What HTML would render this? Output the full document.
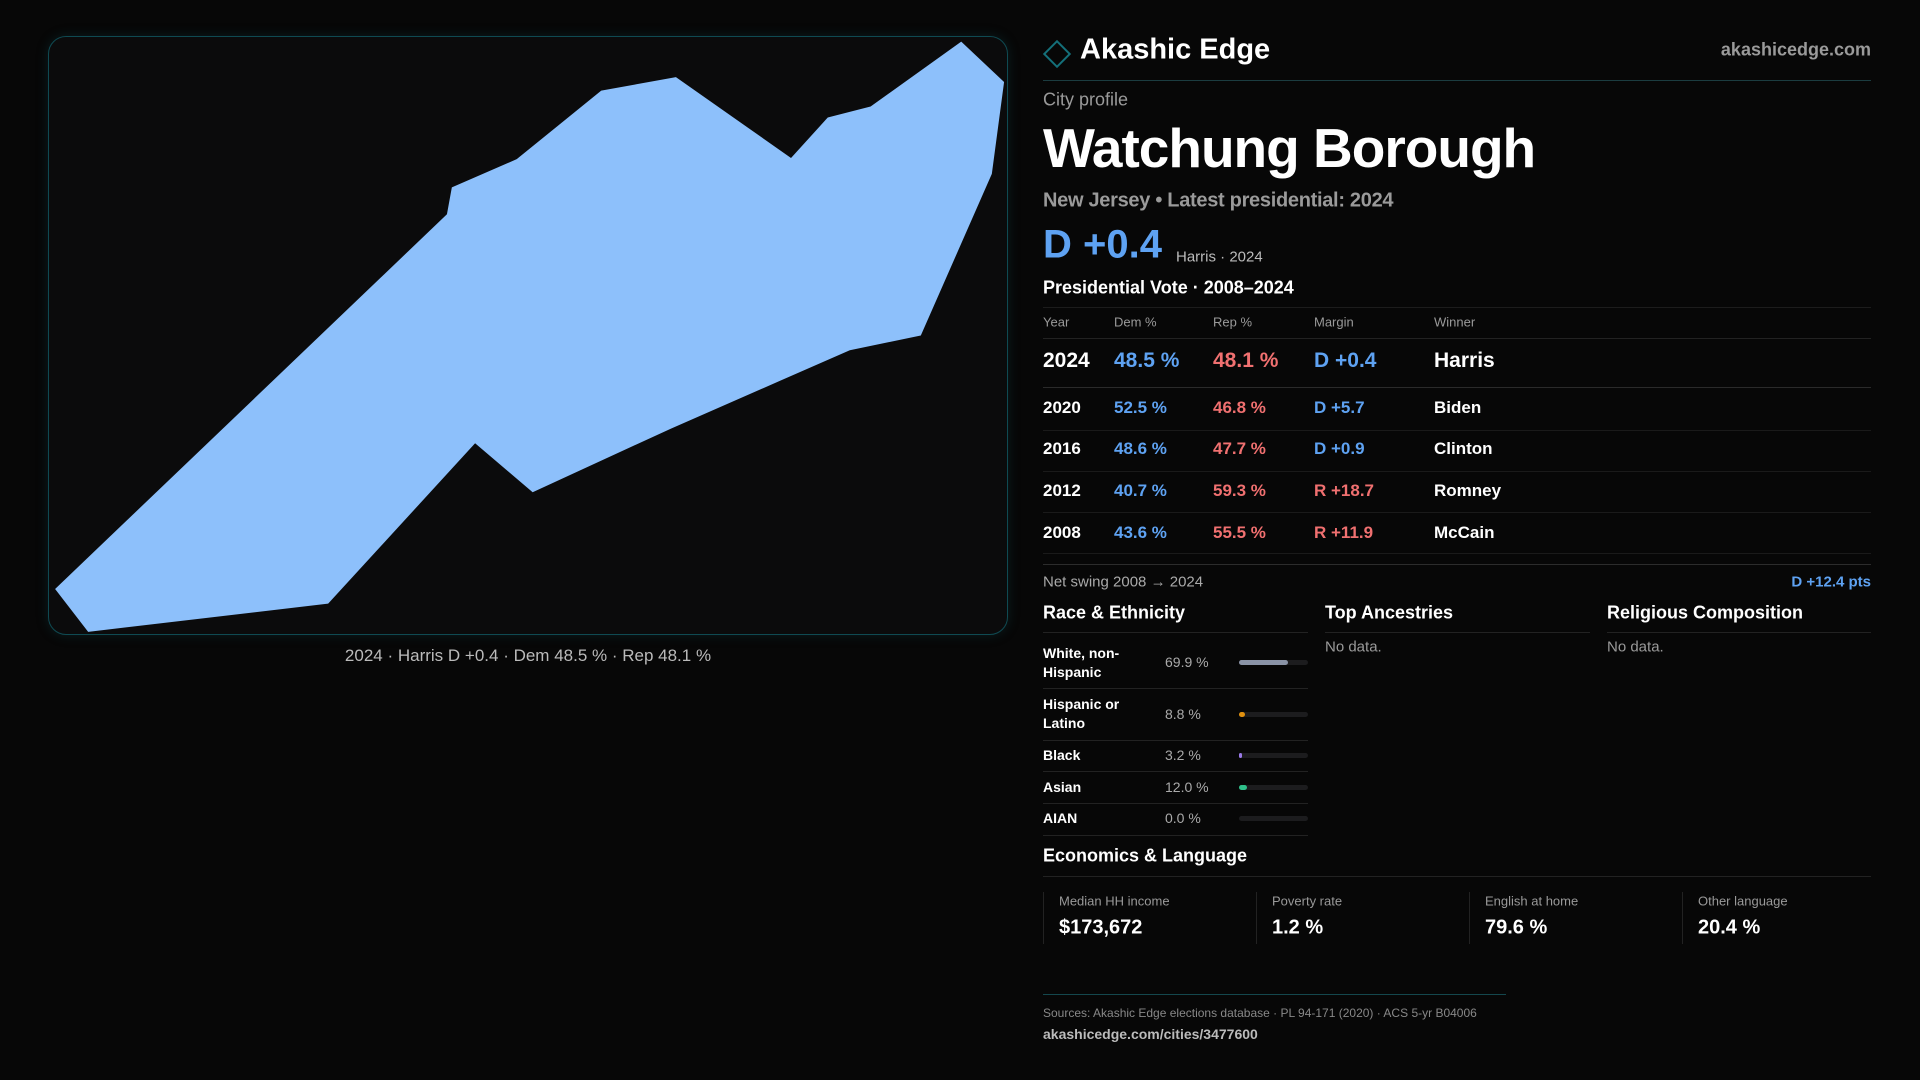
<!DOCTYPE html>
<html><head><meta charset="utf-8"><style>
*{margin:0;padding:0;box-sizing:border-box}
body{width:1920px;height:1080px;background:#070707;font-family:"Liberation Sans",sans-serif;color:#fff;position:relative;overflow:hidden}
.a{position:absolute;white-space:nowrap}
.panel{position:absolute;left:48px;top:36px;width:960px;height:599px;border:1.5px solid #0f4a52;border-radius:18px;background:#0b0b0c;box-shadow:0 0 12px rgba(20,90,100,.25)}
.hl{position:absolute;height:1px;background:#222}
.m{transform:translateY(-50%)}
.b{color:#5ea2f2}.r{color:#f07070}.g{color:#9a9a9a}
.bar{position:absolute;left:1239px;width:69px;height:5px;border-radius:3px;background:#1c1c1e}
.bar i{position:absolute;left:0;top:0;height:5px;border-radius:3px}
.cell{position:absolute;top:892px;width:213px;height:52px;border-left:1px solid #222}
</style></head><body>
<div class="panel"></div>
<svg class="a" style="left:0;top:0" width="1920" height="1080" viewBox="0 0 1568 882">
<polygon fill="#8dc0fb" points="45,481 72,516 268,493 388,362 435,402 548,350 694,286 752,274 810,142 820,67 785,34 711,87 676,96 646,129 552,63 491,74 422,130 369,153 365,175"/>
</svg>
<div class="a m" style="left:528px;top:656px;transform:translate(-50%,-50%);font-size:17px;color:#bbb">2024 · Harris D +0.4 · Dem 48.5 % · Rep 48.1 %</div>

<div class="a" style="left:1047px;top:44px;width:20px;height:20px;border:2px solid #14707a;transform:rotate(45deg)"></div>
<div class="a m" style="left:1080px;top:50px;font-size:29px;font-weight:bold">Akashic Edge</div>
<div class="a m" style="right:49px;top:50px;font-size:18px;color:#9a9a9a;font-weight:bold">akashicedge.com</div>
<div class="hl" style="left:1043px;top:80px;width:828px;background:#1b3c40"></div>
<div class="a m g" style="left:1043px;top:100px;font-size:18px">City profile</div>
<div class="a m" style="left:1043px;top:148px;font-size:55px;font-weight:bold;letter-spacing:-1px">Watchung Borough</div>
<div class="a m g" style="left:1043px;top:201px;font-size:20px;font-weight:bold;letter-spacing:-0.3px">New Jersey • Latest presidential: 2024</div>
<div class="a m b" style="left:1043px;top:245px;font-size:40px;font-weight:bold">D +0.4</div>
<div class="a m" style="left:1176px;top:257px;font-size:15px;color:#bbb">Harris · 2024</div>
<div class="a m" style="left:1043px;top:288px;font-size:18px;font-weight:bold">Presidential Vote · 2008–2024</div>
<div class="hl" style="left:1043px;top:307px;width:828px;background:#1c1c1c"></div>
<div class="a m g" style="left:1043px;top:322px;font-size:13px">Year</div>
<div class="a m g" style="left:1114px;top:322px;font-size:13px">Dem %</div>
<div class="a m g" style="left:1213px;top:322px;font-size:13px">Rep %</div>
<div class="a m g" style="left:1314px;top:322px;font-size:13px">Margin</div>
<div class="a m g" style="left:1434px;top:322px;font-size:13px">Winner</div>
<div class="hl" style="left:1043px;top:338px;width:828px"></div>
<div style="font-size:21px;font-weight:bold">
<div class="a m" style="left:1043px;top:361px">2024</div><div class="a m b" style="left:1114px;top:361px">48.5 %</div><div class="a m r" style="left:1213px;top:361px">48.1 %</div><div class="a m b" style="left:1314px;top:361px">D +0.4</div><div class="a m" style="left:1434px;top:361px">Harris</div>
</div>
<div class="hl" style="left:1043px;top:387px;width:828px;background:#2a2a2a"></div>
<div style="font-size:17px;font-weight:bold">
<div class="a m" style="left:1043px;top:408px">2020</div><div class="a m b" style="left:1114px;top:408px">52.5 %</div><div class="a m r" style="left:1213px;top:408px">46.8 %</div><div class="a m b" style="left:1314px;top:408px">D +5.7</div><div class="a m" style="left:1434px;top:408px">Biden</div>
<div class="a m" style="left:1043px;top:449px">2016</div><div class="a m b" style="left:1114px;top:449px">48.6 %</div><div class="a m r" style="left:1213px;top:449px">47.7 %</div><div class="a m b" style="left:1314px;top:449px">D +0.9</div><div class="a m" style="left:1434px;top:449px">Clinton</div>
<div class="a m" style="left:1043px;top:491px">2012</div><div class="a m b" style="left:1114px;top:491px">40.7 %</div><div class="a m r" style="left:1213px;top:491px">59.3 %</div><div class="a m r" style="left:1314px;top:491px">R +18.7</div><div class="a m" style="left:1434px;top:491px">Romney</div>
<div class="a m" style="left:1043px;top:533px">2008</div><div class="a m b" style="left:1114px;top:533px">43.6 %</div><div class="a m r" style="left:1213px;top:533px">55.5 %</div><div class="a m r" style="left:1314px;top:533px">R +11.9</div><div class="a m" style="left:1434px;top:533px">McCain</div>
</div>
<div class="hl" style="left:1043px;top:430px;width:828px;background:#1a1a1a"></div>
<div class="hl" style="left:1043px;top:471px;width:828px;background:#1a1a1a"></div>
<div class="hl" style="left:1043px;top:512px;width:828px;background:#1a1a1a"></div>
<div class="hl" style="left:1043px;top:553px;width:828px;background:#1a1a1a"></div>
<div class="hl" style="left:1043px;top:564px;width:828px;background:#2c2c2c"></div>
<div class="a m" style="left:1043px;top:582px;font-size:15px;color:#aaa">Net swing 2008 → 2024</div>
<div class="a m b" style="right:49px;top:582px;font-size:15px;font-weight:bold">D +12.4 pts</div>

<div class="a m" style="left:1043px;top:613px;font-size:18px;font-weight:bold">Race &amp; Ethnicity</div>
<div class="a m" style="left:1325px;top:613px;font-size:18px;font-weight:bold">Top Ancestries</div>
<div class="a m" style="left:1607px;top:613px;font-size:18px;font-weight:bold">Religious Composition</div>
<div class="hl" style="left:1043px;top:632px;width:265px"></div>
<div class="hl" style="left:1325px;top:632px;width:265px"></div>
<div class="hl" style="left:1607px;top:632px;width:264px"></div>
<div class="a m g" style="left:1325px;top:647px;font-size:15px">No data.</div>
<div class="a m g" style="left:1607px;top:647px;font-size:15px">No data.</div>

<div style="font-size:14px;font-weight:bold">
<div class="a m" style="left:1043px;top:663px;line-height:19px">White, non-<br>Hispanic</div>
<div class="a m" style="left:1043px;top:714px;line-height:19px">Hispanic or<br>Latino</div>
<div class="a m" style="left:1043px;top:755px">Black</div>
<div class="a m" style="left:1043px;top:787px">Asian</div>
<div class="a m" style="left:1043px;top:818px">AIAN</div>
</div>
<div style="font-size:14px;color:#aaa">
<div class="a m" style="left:1165px;top:662px">69.9 %</div>
<div class="a m" style="left:1165px;top:714px">8.8 %</div>
<div class="a m" style="left:1165px;top:755px">3.2 %</div>
<div class="a m" style="left:1165px;top:787px">12.0 %</div>
<div class="a m" style="left:1165px;top:818px">0.0 %</div>
</div>
<div class="bar" style="top:660px"><i style="width:49px;background:#8a93a6"></i></div>
<div class="bar" style="top:712px"><i style="width:6px;background:#e0900f"></i></div>
<div class="bar" style="top:753px"><i style="width:3px;background:#9a7ae8"></i></div>
<div class="bar" style="top:785px"><i style="width:8px;background:#2fc08a"></i></div>
<div class="bar" style="top:816px"></div>
<div class="hl" style="left:1043px;top:688px;width:265px"></div>
<div class="hl" style="left:1043px;top:740px;width:265px"></div>
<div class="hl" style="left:1043px;top:771px;width:265px"></div>
<div class="hl" style="left:1043px;top:803px;width:265px"></div>
<div class="hl" style="left:1043px;top:835px;width:265px"></div>

<div class="a m" style="left:1043px;top:856px;font-size:18px;font-weight:bold">Economics &amp; Language</div>
<div class="hl" style="left:1043px;top:876px;width:828px"></div>
<div class="cell" style="left:1043px"></div><div class="cell" style="left:1256px"></div><div class="cell" style="left:1469px"></div><div class="cell" style="left:1682px"></div>
<div style="font-size:13px;color:#999">
<div class="a m" style="left:1059px;top:901px">Median HH income</div>
<div class="a m" style="left:1272px;top:901px">Poverty rate</div>
<div class="a m" style="left:1485px;top:901px">English at home</div>
<div class="a m" style="left:1698px;top:901px">Other language</div>
</div>
<div style="font-size:20px;font-weight:bold">
<div class="a m" style="left:1059px;top:928px">$173,672</div>
<div class="a m" style="left:1272px;top:928px">1.2 %</div>
<div class="a m" style="left:1485px;top:928px">79.6 %</div>
<div class="a m" style="left:1698px;top:928px">20.4 %</div>
</div>
<div class="hl" style="left:1043px;top:994px;width:463px;background:#14474d"></div>
<div class="a m" style="left:1043px;top:1013px;font-size:12px;color:#888">Sources: Akashic Edge elections database · PL 94-171 (2020) · ACS 5-yr B04006</div>
<div class="a m" style="left:1043px;top:1034px;font-size:14px;color:#bbb;font-weight:bold">akashicedge.com/cities/3477600</div>
</body></html>
